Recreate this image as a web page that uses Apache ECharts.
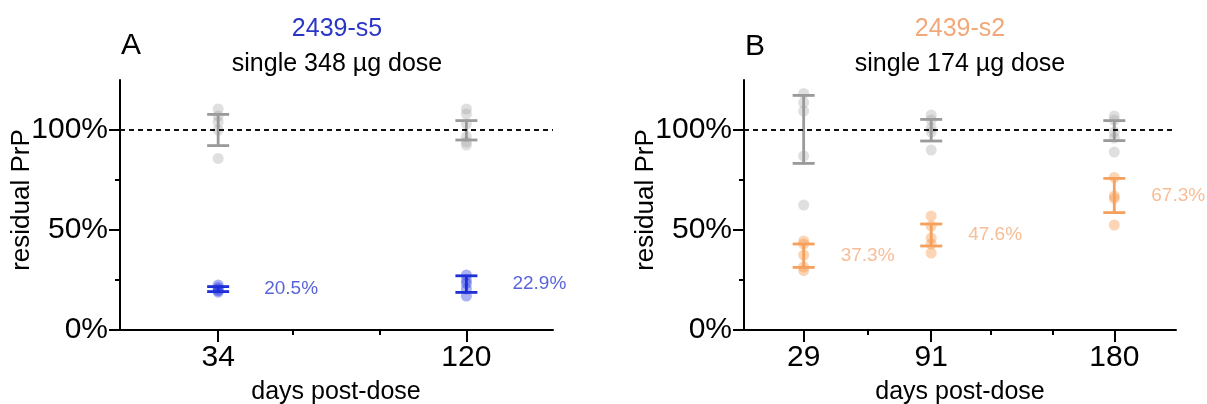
<!DOCTYPE html>
<html><head><meta charset="utf-8">
<script src="https://cdn.jsdelivr.net/npm/echarts@6/dist/echarts.min.js"></script>
<style>html,body{margin:0;padding:0;background:#fff}#c{width:1207px;height:404px}</style>
</head><body><div id="c"></div>
<script>
// ---------- Panel A : 2439-s5, single 348 µg dose ----------
const daysA = [34, 120];
const greyA = [[110.5, 107, 104, 100, 85.8], [110.5, 108, 103, 96.7, 94, 92.5]];
const greyLowA = [92.2, 95.0];
const greyHighA = [107.8, 104.7];
const blueA = [[22.5, 21.2, 20.4, 19.6, 18.9], [27.5, 25.0, 23.3, 20.5, 17.0]];
const blueMeanA = [20.5, 22.9];
const blueLowA = [19.2, 18.8];
const blueHighA = [21.7, 27.1];
const xMaxA = 150;
const xTicksMajorA = [34, 120];
const xTicksMinorA = [60, 90];

// ---------- Panel B : 2439-s2, single 174 µg dose ----------
const daysB = [29, 91, 180];
const greyB = [[118.3, 113.7, 109.5, 87, 62.5], [107.5, 105, 101, 99, 90], [107, 105, 99, 96, 89]];
const greyLowB = [83.3, 94.5, 94.7];
const greyHighB = [117.3, 105.3, 104.7];
const orangeB = [[44.5, 43, 37.5, 31.5, 29.7], [57, 52, 46, 43, 38.5], [76.3, 67, 65.8, 52.5]];
const orangeMeanB = [37.3, 47.6, 67.3];
const orangeLowB = [31.3, 42.0, 58.7];
const orangeHighB = [43.0, 53.0, 75.8];
const xMaxB = 210;
const xTicksMajorB = [29, 91, 180];
const xTicksMinorB = [60, 120, 150];

// ---------- shared y axis ----------
const yMax = 125;
const yTicksMajor = [0, 50, 100];
const yTicksMinor = [25, 75];

const FONT = "'Liberation Sans', Arial, Helvetica, sans-serif";
const BLUE_PT = 'rgba(40,60,225,0.5)', BLUE_BAR = '#1f2fd6', BLUE_TXT = '#2c3cd0';
const OR_PT = 'rgba(245,150,70,0.5)', OR_BAR = '#f5a05c', OR_TXT = '#f4ad7c';
const GR_PT = 'rgba(155,155,155,0.4)', GR_BAR = '#9a9a9a';

function pts(days, groups) {
  const out = [];
  groups.forEach((g, i) => g.forEach(v => out.push([days[i], v])));
  return out;
}
function bars(days, lo, hi) { return days.map((d, i) => [d, lo[i], hi[i]]); }

function errRender(color) {
  return function (params, api) {
    const x = api.value(0), lo = api.value(1), hi = api.value(2);
    const a = api.coord([x, lo]), b = api.coord([x, hi]);
    const st = { stroke: color, lineWidth: 2.8 };
    const h = 11;
    return { type: 'group', children: [
      { type: 'line', shape: { x1: a[0], y1: a[1], x2: b[0], y2: b[1] }, style: st },
      { type: 'line', shape: { x1: a[0] - h, y1: a[1], x2: a[0] + h, y2: a[1] }, style: st },
      { type: 'line', shape: { x1: b[0] - h, y1: b[1], x2: b[0] + h, y2: b[1] }, style: st }
    ]};
  };
}

function xAxes(grid, max, major, minor) {
  return [
    { type: 'value', gridIndex: grid, position: 'bottom', min: 0, max: max,
      axisLine: { show: true, onZero: false, lineStyle: { color: '#000', width: 2 } },
      axisTick: { show: true, customValues: major, length: 12, lineStyle: { color: '#000', width: 2 } },
      axisLabel: { show: true, customValues: major, fontSize: 30, color: '#000', margin: 13, fontFamily: FONT },
      splitLine: { show: false } },
    { type: 'value', gridIndex: grid, position: 'bottom', min: 0, max: max,
      axisLine: { show: false, onZero: false },
      axisTick: { show: true, customValues: minor, length: 5, lineStyle: { color: '#000', width: 2 } },
      axisLabel: { show: false }, splitLine: { show: false } }
  ];
}
function yAxes(grid) {
  return [
    { type: 'value', gridIndex: grid, position: 'left', min: 0, max: yMax,
      axisLine: { show: true, onZero: false, lineStyle: { color: '#000', width: 2 } },
      axisTick: { show: true, customValues: yTicksMajor, length: 11, lineStyle: { color: '#000', width: 2 } },
      axisLabel: { show: true, customValues: yTicksMajor, fontSize: 30, color: '#000', margin: 12, fontFamily: FONT,
        formatter: v => v + '%' },
      splitLine: { show: false } },
    { type: 'value', gridIndex: grid, position: 'left', min: 0, max: yMax,
      axisLine: { show: false, onZero: false },
      axisTick: { show: true, customValues: yTicksMinor, length: 5, lineStyle: { color: '#000', width: 2 } },
      axisLabel: { show: false }, splitLine: { show: false } }
  ];
}

function scatter(xi, data, color, withLine) {
  const s = { type: 'scatter', xAxisIndex: xi, yAxisIndex: xi, data: data, symbolSize: 11,
    itemStyle: { color: color }, z: 2, silent: true };
  if (withLine) {
    s.markLine = { silent: true, symbol: ['none', 'none'], label: { show: false },
      lineStyle: { color: '#111', width: 2, type: [5, 4] }, data: [{ yAxis: 100 }] };
  }
  return s;
}
function errSeries(xi, data, color) {
  return { type: 'custom', xAxisIndex: xi, yAxisIndex: xi, data: data, renderItem: errRender(color),
    encode: { x: 0, y: [1, 2] }, z: 3, silent: true };
}
function labelSeries(xi, days, means, color, dist) {
  return { type: 'scatter', xAxisIndex: xi, yAxisIndex: xi, symbolSize: 0, silent: true, z: 4,
    data: days.map((d, i) => [d, means[i]]),
    label: { show: true, position: 'right', distance: dist, fontSize: 19, fontFamily: FONT, color: color,
      formatter: p => p.value[1].toFixed(1) + '%' } };
}

function txt(x, y, text, size, color, rot) {
  return { type: 'text', x: x, y: y, rotation: rot || 0,
    style: { text: text, fontSize: size, fontFamily: FONT, fill: color, align: 'center', verticalAlign: 'middle' } };
}

const chart = echarts.init(document.getElementById('c'), null, { renderer: 'canvas' });
chart.setOption({
  animation: false,
  grid: [
    { left: 120, top: 80, width: 433, height: 250 },
    { left: 744, top: 80, width: 432, height: 250 }
  ],
  xAxis: [].concat(xAxes(0, xMaxA, xTicksMajorA, xTicksMinorA), xAxes(1, xMaxB, xTicksMajorB, xTicksMinorB)),
  yAxis: [].concat(yAxes(0), yAxes(1)),
  series: [
    scatter(0, pts(daysA, greyA), GR_PT, true),
    scatter(0, pts(daysA, blueA), BLUE_PT, false),
    errSeries(0, bars(daysA, greyLowA, greyHighA), GR_BAR),
    errSeries(0, bars(daysA, blueLowA, blueHighA), BLUE_BAR),
    labelSeries(0, daysA, blueMeanA, BLUE_TXT, 46),
    scatter(2, pts(daysB, greyB), GR_PT, true),
    scatter(2, pts(daysB, orangeB), OR_PT, false),
    errSeries(2, bars(daysB, greyLowB, greyHighB), GR_BAR),
    errSeries(2, bars(daysB, orangeLowB, orangeHighB), OR_BAR),
    labelSeries(2, daysB, orangeMeanB, OR_TXT, 37)
  ],
  graphic: [
    txt(131, 46, 'A', 30, '#000'),
    txt(337, 29, '2439-s5', 25, '#2a36c8'),
    txt(337, 64, 'single 348 µg dose', 25, '#000'),
    txt(22, 200, 'residual PrP', 26, '#000', Math.PI / 2),
    txt(336, 392, 'days post-dose', 25, '#000'),
    txt(755, 47, 'B', 30, '#000'),
    txt(960, 29, '2439-s2', 25, '#f2a878'),
    txt(960, 64, 'single 174 µg dose', 25, '#000'),
    txt(646, 200, 'residual PrP', 26, '#000', Math.PI / 2),
    txt(960, 392, 'days post-dose', 25, '#000')
  ]
});
</script>
</body></html>
